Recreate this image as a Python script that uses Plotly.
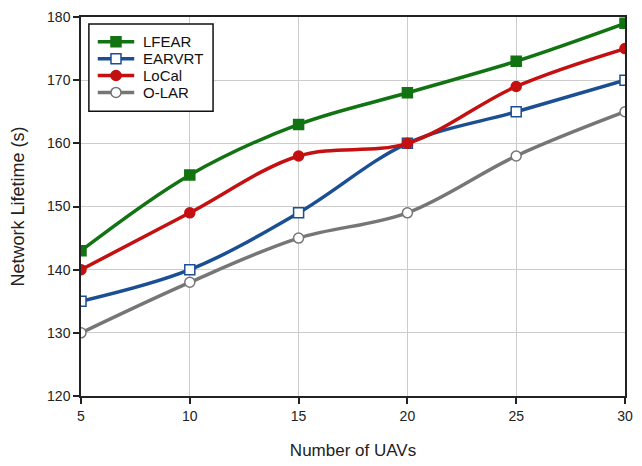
import plotly.graph_objects as go

# Network lifetime vs. number of UAVs
uavs = [5, 10, 15, 20, 25, 30]
lfear = [143, 155, 163, 168, 173, 179]
earvrt = [135, 140, 149, 160, 165, 170]
local = [140, 149, 158, 160, 169, 175]
olar = [130, 138, 145, 149, 158, 165]

y_ticks = [120, 130, 140, 150, 160, 170, 180]
x_ticks = [5, 10, 15, 20, 25, 30]

series = [
    ("LFEAR", lfear, "#127312", "square", "#127312"),
    ("EARVRT", earvrt, "#1b4f93", "square", "white"),
    ("LoCal", local, "#c41010", "circle", "#c41010"),
    ("O-LAR", olar, "#767676", "circle", "white"),
]

W, H = 642, 466
M = dict(l=81, r=9, t=15, b=69)
PW, PH = W - M["l"] - M["r"], H - M["t"] - M["b"]
FONT = "Liberation Sans, Arial"


def px_x(px):
    return (px - M["l"]) / PW


def px_y(py):
    return (H - M["b"] - py) / PH


fig = go.Figure()
for name, vals, color, symbol, fill in series:
    fig.add_trace(go.Scatter(
        x=uavs, y=vals, name=name, mode="lines+markers",
        line=dict(color=color, width=3.5, shape="spline", smoothing=1),
        marker=dict(symbol=symbol, size=10, color=fill,
                    line=dict(color=color, width=1.5)),
        showlegend=False,
    ))

# Compact legend box drawn with shapes and annotations
shapes, annotations = [], []
shapes.append(dict(type="rect", xref="paper", yref="paper",
                   x0=px_x(89), x1=px_x(215), y0=px_y(110), y1=px_y(22),
                   line=dict(color="#111111", width=1.5), fillcolor="white",
                   layer="above"))
for i, (name, vals, color, symbol, fill) in enumerate(series):
    yc = 40 + 17 * i
    shapes.append(dict(type="line", xref="paper", yref="paper",
                       x0=px_x(98), x1=px_x(135), y0=px_y(yc), y1=px_y(yc),
                       line=dict(color=color, width=3.5), layer="above"))
    shapes.append(dict(type="rect" if symbol == "square" else "circle",
                       xref="paper", yref="paper",
                       xsizemode="pixel", ysizemode="pixel",
                       xanchor=px_x(116.5), yanchor=px_y(yc),
                       x0=-5, x1=5, y0=-5, y1=5,
                       fillcolor=fill, line=dict(color=color, width=1.5),
                       layer="above"))
    annotations.append(dict(xref="paper", yref="paper", x=px_x(142), y=px_y(yc),
                            text=name, showarrow=False, xanchor="left",
                            yanchor="middle",
                            font=dict(family=FONT, size=15, color="#111111")))

axis_common = dict(
    showline=True, linecolor="#222222", linewidth=1.5, mirror=True,
    ticks="outside", ticklen=6, tickwidth=1.5, tickcolor="#222222",
    showgrid=True, gridcolor="#cccccc", gridwidth=1, zeroline=False,
    tickfont=dict(family=FONT, size=14, color="#222222"),
)

fig.update_xaxes(range=[5, 30], tickvals=x_ticks,
                 title=dict(text="Number of UAVs", standoff=22,
                            font=dict(family=FONT, size=17, color="#222222")),
                 **axis_common)
fig.update_yaxes(range=[120, 180], tickvals=y_ticks,
                 title=dict(text="Network Lifetime (s)", standoff=18,
                            font=dict(family=FONT, size=18, color="#222222")),
                 **axis_common)

fig.update_layout(
    width=W, height=H,
    margin=M,
    plot_bgcolor="white", paper_bgcolor="white",
    shapes=shapes, annotations=annotations,
    showlegend=False,
)

fig.write_html("out.html")
